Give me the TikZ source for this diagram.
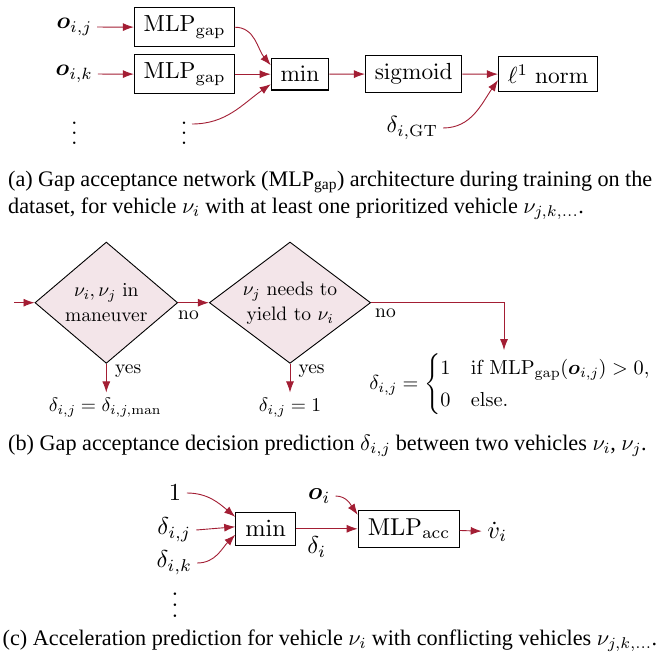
\documentclass[tikz,border=0pt]{standalone}
\usepackage{amsmath}
\usepackage[no-math]{fontspec}
\newfontfamily\capfont{Liberation Serif}
% Computer Modern scaled like an enlarged 10pt picture
\DeclareFontShape{OT1}{cmr}{m}{n}{<-13> cmr5 <13-19> cmr7 <19-> cmr10}{}
\DeclareFontShape{OML}{cmm}{m}{it}{<-13> cmmi5 <13-19> cmmi7 <19-> cmmi10}{}
\DeclareFontShape{OML}{cmm}{b}{it}{<-> cmmib10}{}
\DeclareFontShape{OMS}{cmsy}{m}{n}{<-13> cmsy5 <13-19> cmsy7 <19-> cmsy10}{}
\DeclareFontShape{OMX}{cmex}{m}{n}{<-> cmex10}{}
\newcommand\cmr{\fontencoding{OT1}\fontfamily{cmr}\fontseries{m}\fontshape{n}}
\usetikzlibrary{arrows.meta,shapes.geometric,calc}
\definecolor{arrowred}{RGB}{163,30,52}
\definecolor{diafill}{RGB}{243,229,233}
\newcommand\myvdots[1]{\vbox{\baselineskip=#1\lineskiplimit=0pt\hbox{.}\hbox{.}\hbox{.}}}
\tikzset{
  arr/.style={draw=arrowred, line width=0.9pt, -{Latex[length=11pt,width=8pt]}},
  box/.style={draw, line width=1.1pt, inner xsep=9.3pt, inner ysep=8pt},
  dia/.style={diamond, draw, fill=diafill, line width=0.9pt, inner sep=0pt, align=center},
  lbl/.style={inner sep=0pt, anchor=base west},
  capt/.style={font=\capfont\fontsize{22.2}{26.7}\selectfont, inner sep=0pt}
}
\begin{document}
\begin{tikzpicture}[x=1pt,y=1pt]
\useasboundingbox (0,0) rectangle (660,-663);
\fill[white] (0,0) rectangle (660,-663);

% ---------- (a)
\begin{scope}[every node/.append style={font=\cmr\fontsize{23.3}{28}\selectfont, inner sep=5.5pt}]
\node (oij) at (74,-27) {$\boldsymbol{o}_{i,j}$};
\node[box] (mlp1) at (184.3,-27.2) {$\mathrm{MLP}_{\mathrm{gap}}$};
\node (oik) at (74,-74) {$\boldsymbol{o}_{i,k}$};
\node[box] (mlp2) at (184.3,-74.2) {$\mathrm{MLP}_{\mathrm{gap}}$};
\node (dots1) at (74.3,-133) {\myvdots{10pt}};
\node (dots2) at (184,-133) {\myvdots{10pt}};
\node[box] (min1) at (300,-74.2) {min};
\node[box] (sig) at (413.7,-74) {sigmoid};
\node[box] (l1) at (548,-74.2) {$\ell^1$ norm};
\node (dgt) at (412,-128) {$\delta_{i,\mathrm{GT}}$};
\end{scope}
\draw[arr] (oij) -- (mlp1);
\draw[arr] (oik) -- (mlp2);
\draw[arr] (mlp1.east) to[out=0,in=130] ($(min1.west)+(0,9)$);
\draw[arr] (mlp2) -- (min1);
\draw[arr] ($(dots2.center)+(8,9)$) to[out=0,in=215] ($(min1.west)+(0,-10)$);
\draw[arr] (min1) -- (sig);
\draw[arr] (sig) -- (l1);
\draw[arr] (dgt.east) to[out=0,in=235] ($(l1.west)+(0,-6)$);

\node[capt, anchor=north west, text width=644pt, align=justify] (capa) at (8,-171)
 {(a) Gap acceptance network (MLP\textsubscript{gap}) architecture during training on the\linebreak dataset, for vehicle $\nu_i$ with at least one prioritized vehicle $\nu_{j,k,\ldots}$.};

% ---------- (b)
\begin{scope}[every node/.append style={font=\cmr\fontsize{19.5}{25}\selectfont, inner sep=5.5pt}]
\node[dia, aspect=1.176, minimum width=142.7pt, minimum height=121.3pt] (d1) at (106.3,-302.7) {$\nu_i,\nu_j$ in\\maneuver};
\node[dia, aspect=1.33, minimum width=161.3pt, minimum height=121.3pt] (d2) at (290,-302.7) {$\nu_j$ needs to\\yield to $\nu_i$};
\coordinate (start) at (14,-302.7);
\node[lbl] (no1) at (178,-319.5) {no};
\node[lbl] (no2) at (375,-317.5) {no};
\node[lbl] (yes1) at (115,-373.2) {yes};
\node[lbl] (yes2) at (298.3,-373.2) {yes};
\node[anchor=base] (res1) at (105,-411.7) {$\delta_{i,j} = \delta_{i,j,\mathrm{man}}$};
\node[anchor=base] (res2) at (290,-411.7) {$\delta_{i,j} = 1$};
\node[inner sep=2pt, font=\cmr\fontsize{20.3}{26.4}\selectfont] (form) at (510,-384)
 {$\delta_{i,j} = \begin{cases}1 & \text{if } \mathrm{MLP}_{\mathrm{gap}}(\boldsymbol{o}_{i,j}) > 0,\\ 0 & \text{else.}\end{cases}$};
\end{scope}
\coordinate (formin) at ($(form.north)+(-6,0)$);
\draw[arr] (start) -- (d1.west);
\draw[arr] (d1.east) -- (d2.west);
\draw[arr] (d1.south) -- (d1.south |- res1.north);
\draw[arr] (d2.south) -- (d2.south |- res2.north);
\draw[arr] (d2.east) -| (formin);

\node[capt, anchor=north west, text width=644pt, align=justify] (capb) at (8,-434.6)
 {\parfillskip=0pt (b) Gap acceptance decision prediction $\delta_{i,j}$ between two vehicles $\nu_i$, $\nu_j$.};

% ---------- (c)
\begin{scope}[every node/.append style={font=\cmr\fontsize{24.4}{29}\selectfont, inner sep=5.5pt}]
\node (one) at (175,-493) {1};
\node (dij) at (174,-530) {$\delta_{i,j}$};
\node (dik) at (174,-563) {$\delta_{i,k}$};
\node (dots3) at (175,-605) {\myvdots{11pt}};
\node[box, inner ysep=8.5pt, inner xsep=9.6pt] (min2) at (265.7,-528.8) {min};
\node[box, inner ysep=8.5pt, inner xsep=9.6pt] (mlp3) at (408.7,-528.8) {$\mathrm{MLP}_{\mathrm{acc}}$};
\node (oi) at (319,-496) {$\boldsymbol{o}_i$};
\node (vd) at (497,-531.7) {$\dot{v}_i$};
\end{scope}
\draw[arr] (one.east) to[out=0,in=140] ($(min2.west)+(0,12)$);
\draw[arr] (dij.east) -- ($(min2.west)+(0,2)$);
\draw[arr] (dik.east) to[out=0,in=225] ($(min2.west)+(0,-6)$);
\draw[arr] (min2) -- node[pos=0.33, below=2pt, inner sep=5.5pt, font=\cmr\fontsize{24.4}{29}\selectfont] (di) {$\delta_i$} (mlp3);
\draw[arr] (oi.east) to[out=0,in=125] ($(mlp3.west)+(0,14)$);
\draw[arr] (mlp3) -- (vd);

\node[capt, anchor=base] (capc) at (330,-645)
 {(c) Acceleration prediction for vehicle $\nu_i$ with conflicting vehicles $\nu_{j,k,\ldots}$.};
\end{tikzpicture}
\end{document}
